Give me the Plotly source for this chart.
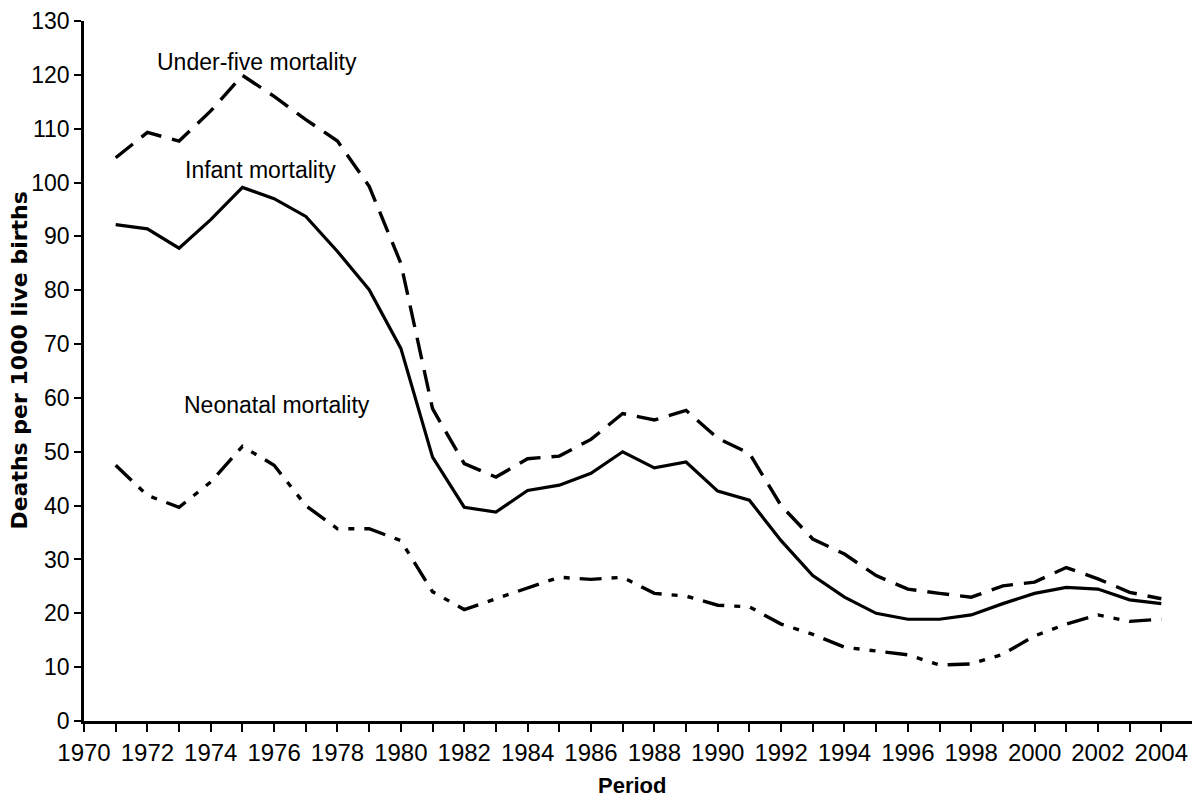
import plotly.graph_objects as go

years = list(range(1971, 2005))

under_five = [104.6, 109.3, 107.7, 113.3, 119.9, 116.0, 111.7, 107.7, 99.3, 85.0,
              58.0, 47.8, 45.3, 48.7, 49.2, 52.3, 57.1, 55.9, 57.7, 52.5,
              49.7, 40.0, 33.8, 31.0, 27.0, 24.5, 23.7, 23.0, 25.1, 25.8,
              28.5, 26.4, 23.9, 22.7]

infant = [92.2, 91.4, 87.8, 93.1, 99.1, 97.0, 93.7, 87.2, 80.1, 69.2,
          49.0, 39.7, 38.8, 42.8, 43.8, 46.0, 50.0, 47.0, 48.1, 42.7,
          41.0, 33.5, 27.0, 23.0, 20.0, 18.9, 18.9, 19.7, 21.8, 23.7,
          24.8, 24.5, 22.5, 21.8]

neonatal = [47.5, 41.9, 39.7, 44.4, 51.0, 47.5, 40.0, 35.7, 35.7, 33.5,
            24.0, 20.7, 22.7, 24.7, 26.7, 26.3, 26.7, 23.7, 23.2, 21.5,
            21.2, 18.0, 16.1, 13.7, 13.0, 12.3, 10.4, 10.6, 12.4, 15.8,
            18.0, 19.7, 18.5, 18.9]

tick_years = list(range(1970, 2006))
tick_labels = [str(y) if y % 2 == 0 else "" for y in tick_years]

series_labels = ["Under-five mortality", "Infant mortality", "Neonatal mortality"]
label_pos = [(1975.46, 122.3), (1975.57, 102.4), (1976.1, 58.7)]

FONT = "Liberation Sans, Arial, sans-serif"

fig = go.Figure()
fig.add_trace(go.Scatter(x=years, y=under_five, mode="lines",
                         line=dict(color="black", width=3.4, dash="22px,11px"),
                         name=series_labels[0]))
fig.add_trace(go.Scatter(x=years, y=infant, mode="lines",
                         line=dict(color="black", width=3.2),
                         name=series_labels[1]))
fig.add_trace(go.Scatter(x=years, y=neonatal, mode="lines",
                         line=dict(color="black", width=3.4,
                                   dash="22px,10px,6px,10px,6px,10px"),
                         name=series_labels[2]))

for txt, (lx, ly) in zip(series_labels, label_pos):
    fig.add_annotation(x=lx, y=ly, xref="x", yref="y", text=txt, showarrow=False,
                       font=dict(family=FONT, size=23, color="black"),
                       xanchor="center", yanchor="middle")

fig.add_annotation(x=-0.0585, y=0.515, xref="paper", yref="paper",
                   text="<b>Deaths per 1000 live births</b>", showarrow=False,
                   textangle=-90, xanchor="center", yanchor="middle",
                   font=dict(family="DejaVu Sans", size=22, color="black"))
fig.add_annotation(x=0.494, y=-0.092, xref="paper", yref="paper",
                   text="<b>Period</b>", showarrow=False,
                   xanchor="center", yanchor="middle",
                   font=dict(family=FONT, size=22, color="black"))

# page body has an 8px default margin, so the figure is offset by 8px
fig.update_layout(
    width=1192, height=791,
    margin=dict(l=76, r=7, t=13, b=78, autoexpand=False),
    plot_bgcolor="white", paper_bgcolor="white",
    showlegend=False,
    font=dict(family=FONT, size=23, color="black"),
)
fig.update_xaxes(range=[1970, 2005], tickvals=tick_years, ticktext=tick_labels,
                 ticks="outside", ticklen=8, tickwidth=2, tickcolor="black",
                 showline=True, linecolor="black", linewidth=2.5,
                 showgrid=False, zeroline=False, automargin=False,
                 tickfont=dict(family=FONT, size=24, color="black"))
fig.update_yaxes(range=[0, 130], dtick=10, tick0=0,
                 ticks="outside", ticklen=7, tickwidth=2, tickcolor="black",
                 showline=True, linecolor="black", linewidth=2.5,
                 showgrid=False, zeroline=False, automargin=False,
                 tickfont=dict(family=FONT, size=23, color="black"))

fig.write_html("out.html")
